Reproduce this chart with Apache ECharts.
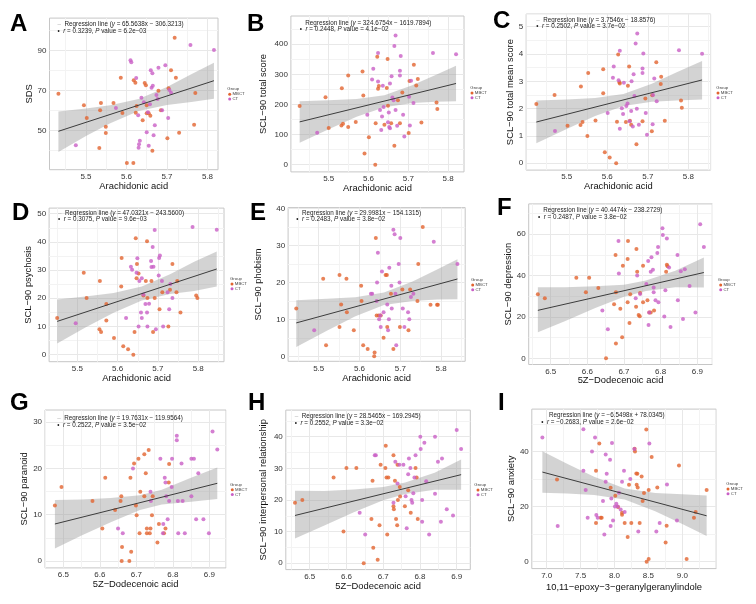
<!DOCTYPE html>
<html>
<head>
<meta charset="utf-8">
<script src="https://cdn.jsdelivr.net/npm/echarts@6/dist/echarts.min.js"></script>
<style>
html, body { margin: 0; padding: 0; background: #fff; }
#main { width: 756px; height: 604px; }
</style>
</head>
<body>
<div id="main"></div>
<script>
// ---- data: [x, y] per subject, split by group ----
const aMbct = [[5.432,68.5],[5.495,62.7],[5.502,56.3],[5.535,60.2],[5.537,63.8],[5.533,41.3],[5.549,52],[5.549,48.8],[5.568,63.8],[5.586,76.5],[5.59,58.8],[5.601,33.8],[5.617,33.8],[5.618,75.2],[5.622,74],[5.623,59],[5.625,62.3],[5.64,55.2],[5.645,73.8],[5.648,72.7],[5.65,62.7],[5.65,58.7],[5.655,58.7],[5.659,57.5],[5.664,40],[5.679,70],[5.685,60.2],[5.701,46.2],[5.704,71.2],[5.71,80.2],[5.719,96.5],[5.722,76.5],[5.73,49],[5.767,53],[5.77,68.8]]
const aCt = [[5.475,42.7],[5.574,61.3],[5.61,85.2],[5.612,84.2],[5.624,76.3],[5.629,57.7],[5.63,41.5],[5.631,43.2],[5.633,45],[5.637,66.5],[5.643,64.2],[5.65,49.2],[5.653,59.2],[5.655,42.5],[5.658,63.2],[5.66,80.2],[5.662,71.5],[5.664,78.7],[5.665,72.5],[5.667,47.7],[5.67,52.7],[5.674,67.8],[5.677,65.8],[5.679,81.5],[5.688,60.2],[5.696,82.7],[5.703,56.3],[5.706,70.3],[5.71,69],[5.758,92.8],[5.816,90.3]]

const bMbct = [[5.427,195],[5.492,224],[5.5,122],[5.532,130],[5.533,254],[5.536,136],[5.549,296],[5.549,125],[5.568,142],[5.585,310],[5.587,230],[5.59,37],[5.601,91],[5.617,0],[5.618,138],[5.622,359],[5.624,252],[5.626,261],[5.64,133],[5.646,255],[5.648,351],[5.649,196],[5.657,138],[5.665,63],[5.674,214],[5.679,138],[5.685,240],[5.701,105],[5.703,278],[5.714,332],[5.72,263],[5.724,285],[5.733,140],[5.771,207],[5.773,185]]
const bCt = [[5.471,106],[5.597,166],[5.609,283],[5.612,319],[5.624,371],[5.624,276],[5.629,182],[5.632,115],[5.634,160],[5.636,262],[5.638,192],[5.649,141],[5.651,173],[5.652,125],[5.654,121],[5.654,270],[5.658,294],[5.66,223],[5.663,214],[5.665,394],[5.668,429],[5.668,182],[5.672,129],[5.679,296],[5.679,312],[5.681,361],[5.687,166],[5.69,94],[5.702,226],[5.704,130],[5.707,279],[5.713,205],[5.762,371],[5.82,367]]

const cMbct = [[5.425,2.17],[5.47,2.5],[5.502,1.37],[5.534,1.4],[5.535,2.81],[5.539,1.51],[5.551,1.0],[5.553,3.3],[5.571,1.57],[5.59,3.44],[5.59,2.56],[5.594,0.4],[5.606,0.21],[5.622,0],[5.624,1.52],[5.627,3.98],[5.63,2.97],[5.631,2.92],[5.646,1.51],[5.651,2.84],[5.654,3.54],[5.656,1.56],[5.659,1.41],[5.672,0.7],[5.687,1.54],[5.694,2.37],[5.71,1.17],[5.711,2.49],[5.721,3.7],[5.732,2.9],[5.733,3.17],[5.742,1.56],[5.782,2.3],[5.784,2.03]]
const cCt = [[5.471,1.18],[5.601,1.84],[5.616,3.54],[5.614,3.13],[5.628,3.04],[5.631,4.12],[5.631,1.26],[5.636,2.01],[5.639,1.8],[5.641,2.95],[5.647,2.1],[5.65,2.19],[5.655,1.54],[5.659,1.91],[5.66,3.0],[5.663,1.35],[5.665,3.26],[5.667,2.46],[5.67,4.38],[5.674,4.75],[5.673,2.0],[5.678,1.41],[5.687,3.3],[5.687,3.47],[5.689,4.02],[5.695,1.84],[5.698,1.04],[5.712,1.43],[5.716,3.1],[5.713,2.5],[5.722,2.27],[5.777,4.14],[5.834,4.01]]

const dMbct = [[5.45,13],[5.516,29.1],[5.523,20.1],[5.555,9],[5.556,26.1],[5.559,8],[5.572,18],[5.572,12.1],[5.591,5.9],[5.609,24.2],[5.61,34.3],[5.614,3],[5.626,1.9],[5.639,0],[5.642,8],[5.645,41.3],[5.648,32.2],[5.647,27.1],[5.652,28.8],[5.664,21],[5.67,26.1],[5.673,40.2],[5.674,20.1],[5.684,26.1],[5.688,8],[5.692,20.1],[5.704,16.1],[5.711,22.1],[5.726,10],[5.73,23],[5.736,32.2],[5.746,22.1],[5.748,26.1],[5.756,15],[5.795,21],[5.798,20.1]]
const dCt = [[5.496,11.1],[5.621,13],[5.633,31.2],[5.636,30.1],[5.647,29.1],[5.649,34.2],[5.652,10],[5.654,26.1],[5.658,15],[5.66,13],[5.66,27.1],[5.664,21.3],[5.669,18],[5.673,15],[5.674,10],[5.678,18.1],[5.683,33.2],[5.684,31.1],[5.687,38.2],[5.689,31.2],[5.692,44.2],[5.695,9],[5.702,28.1],[5.703,34.3],[5.705,35.2],[5.71,26.1],[5.713,10],[5.724,22.1],[5.728,16.1],[5.731,25.1],[5.736,20.1],[5.786,45.3],[5.846,44.3]]

const eMbct = [[5.445,13],[5.511,21],[5.518,3.1],[5.551,22],[5.551,8],[5.555,14.1],[5.568,21],[5.569,12],[5.586,7.1],[5.604,19.1],[5.605,15],[5.609,3.1],[5.62,2.1],[5.636,0.1],[5.637,1.1],[5.64,32],[5.642,11.1],[5.647,11.1],[5.652,11.1],[5.659,5.1],[5.664,22],[5.667,22],[5.668,8],[5.677,17],[5.683,2.1],[5.699,8],[5.705,18.1],[5.72,7.1],[5.724,18.1],[5.755,35],[5.742,15],[5.744,25],[5.774,14],[5.79,14],[5.792,14]]
const eCt = [[5.489,7.1],[5.628,17],[5.631,17],[5.642,15],[5.643,20],[5.645,28],[5.648,10.1],[5.651,11.1],[5.652,8],[5.655,23],[5.659,12],[5.668,14.1],[5.67,7.1],[5.672,10.1],[5.673,24],[5.678,19.1],[5.679,13],[5.683,34.2],[5.686,33],[5.688,17],[5.69,3.1],[5.696,25],[5.698,20],[5.7,32],[5.706,13],[5.71,8],[5.719,12],[5.722,10.1],[5.726,16.1],[5.732,17],[5.782,31],[5.84,25]]

const fMbct = [[6.465,31],[6.484,29],[6.57,39],[6.596,31.9],[6.605,39],[6.63,34],[6.651,0],[6.673,26.1],[6.677,50],[6.678,7.1],[6.678,31.9],[6.69,24],[6.695,10.2],[6.697,44.8],[6.71,27.1],[6.71,48.1],[6.711,56.8],[6.715,17.1],[6.717,31],[6.733,25],[6.734,52.9],[6.736,41.9],[6.74,21],[6.743,20.3],[6.744,31.6],[6.752,27.1],[6.752,44.8],[6.764,28.1],[6.769,22.1],[6.773,22.1],[6.782,23.1],[6.815,41.9],[6.817,45.2],[6.819,44.5]]
const fCt = [[6.641,23.1],[6.656,14],[6.685,56.8],[6.686,41],[6.736,40],[6.732,29],[6.744,31.1],[6.761,36],[6.766,47.1],[6.767,16.1],[6.769,22.1],[6.773,41.9],[6.775,48.9],[6.779,42.9],[6.781,34.2],[6.781,31.9],[6.786,28.1],[6.791,51],[6.793,53.9],[6.794,27.1],[6.805,62.9],[6.806,59.7],[6.81,20.2],[6.813,32.9],[6.817,57.9],[6.823,43.9],[6.827,15.2],[6.846,50],[6.847,28.1],[6.855,42.1],[6.861,19],[6.866,43.1],[6.879,35],[6.895,22.1],[6.908,64.8],[6.918,53.9]]

const gMbct = [[6.477,12],[6.495,16],[6.58,13],[6.607,7],[6.615,18],[6.642,11],[6.657,13],[6.66,0],[6.659,14],[6.661,3],[6.681,0],[6.684,18],[6.686,2],[6.694,21.1],[6.699,12],[6.701,9.9],[6.706,22.1],[6.709,6],[6.711,15],[6.722,23.1],[6.722,14],[6.729,7],[6.729,6],[6.737,6],[6.734,24],[6.726,19],[6.739,7],[6.743,9.9],[6.745,14],[6.758,4],[6.762,8],[6.776,6],[6.78,7],[6.789,17],[6.79,21]]
const gCt = [[6.65,7],[6.663,6],[6.691,20],[6.739,15],[6.74,13],[6.766,22.1],[6.773,6],[6.774,8],[6.778,18],[6.78,17],[6.782,14],[6.786,9],[6.79,13],[6.797,16],[6.798,22.1],[6.811,27.1],[6.811,26.1],[6.814,13],[6.815,6],[6.824,21.1],[6.827,13],[6.833,6],[6.851,14],[6.851,22.1],[6.858,22.1],[6.87,19],[6.864,9],[6.884,9],[6.899,6],[6.909,28],[6.922,24.1]]

const hMbct = [[6.46,19.1],[6.48,20],[6.565,27.1],[6.592,10],[6.6,30.1],[6.627,30.1],[6.647,0],[6.668,14],[6.673,4.9],[6.671,26.1],[6.685,1.1],[6.69,12],[6.693,31.1],[6.706,30.1],[6.707,37.1],[6.709,27.1],[6.711,9.1],[6.714,27.1],[6.728,34.1],[6.728,18],[6.729,17.1],[6.732,26.1],[6.735,14],[6.738,12],[6.739,31.1],[6.74,20],[6.745,24.1],[6.746,21.1],[6.759,18],[6.768,23.1],[6.775,16],[6.788,30.1],[6.791,27.1],[6.794,14]]
const hCt = [[6.636,16],[6.651,9.1],[6.677,34.1],[6.68,34.1],[6.728,19.1],[6.733,32.1],[6.739,25.2],[6.744,31.1],[6.755,31.1],[6.761,21.2],[6.764,11.1],[6.768,28.1],[6.77,33.1],[6.774,30.1],[6.777,20],[6.779,19.1],[6.782,22.1],[6.785,27.1],[6.788,34.1],[6.801,40],[6.802,36.1],[6.806,20],[6.806,13.1],[6.812,38.1],[6.817,25.9],[6.825,9.1],[6.841,40],[6.841,22],[6.849,32.1],[6.857,13.1],[6.86,33.1],[6.873,17.1],[6.89,15.1],[6.9,42.1],[6.912,36.1]]

const iMbct = [[7.152,29.9],[7.727,33.1],[7.727,14.1],[7.776,43],[7.796,16],[7.811,16],[7.943,26.9],[8.012,24],[8.052,19.9],[8.111,17.1],[8.111,17.8],[8.15,14.1],[8.194,9],[8.214,28],[8.248,14.1],[8.297,41.1],[8.302,40.1],[8.322,32.1],[8.337,32],[8.327,28],[8.342,27],[8.371,14.1],[8.4,31],[8.415,22.1],[8.435,25],[8.469,48.1],[8.474,0],[8.504,1],[8.504,26.1],[8.548,38.1],[8.631,27],[8.754,7],[8.769,13.1],[8.951,35],[9.064,1],[9.172,16],[9.197,18.1],[9.359,26.1]]
const iCt = [[6.936,45.2],[7.162,13],[7.541,48.2],[7.541,33.1],[7.575,26.1],[7.604,16],[7.668,40.1],[7.713,45.2],[7.732,17],[7.752,16],[7.83,22.1],[7.85,9.9],[7.87,39],[7.885,32],[7.87,29.1],[7.934,37.1],[7.943,13],[7.953,23],[7.963,43.2],[7.978,15],[8.007,20.1],[8.027,21.1],[8.047,20.1],[8.066,25.1],[8.091,19],[8.111,29.1],[8.14,33.1],[8.15,18.1],[8.233,30.1],[8.292,41],[8.351,11],[8.514,43],[8.617,11],[8.666,14.1],[8.774,28.1],[8.921,15]]

// regression line end points
const aFit = [[5.432,49.7],[5.816,75.0]]
const bFit = [[5.427,142.2],[5.82,269.8]]
const cFit = [[5.425,1.51],[5.834,3.05]]
const dFit = [[5.45,11.8],[5.846,30.4]]
const eFit = [[5.445,9.1],[5.84,20.95]]
const fFit = [[6.465,23.2],[6.918,41.5]]
const gFit = [[6.477,8.0],[6.922,16.8]]
const hFit = [[6.46,15.1],[6.912,28.0]]
const iFit = [[6.936,32.6],[9.359,16.7]]

// confidence band: [x, lower, upper]
const aBand = [[5.432,39.3,59.6],[5.5,47.3,61.1],[5.56,53.7,62.7],[5.63,59.8,65.8],[5.7,62.9,71.9],[5.76,64.4,78.2],[5.816,66,84]]
const bBand = [[5.427,73,211],[5.5,118,214],[5.57,159,218],[5.64,191,231],[5.71,205,264],[5.77,209,299],[5.82,211,329]]
const cBand = [[5.425,0.73,2.3],[5.5,1.25,2.33],[5.57,1.73,2.39],[5.64,2.1,2.54],[5.71,2.25,2.91],[5.77,2.3,3.32],[5.834,2.33,3.74]]
const dBand = [[5.45,4,19.6],[5.52,9.6,20.6],[5.59,14.9,21.9],[5.66,19.2,24.2],[5.73,21.5,28.5],[5.79,22.6,33],[5.846,24.2,36.6]]
const eBand = [[5.445,2.6,15.2],[5.52,7.0,15.6],[5.59,10.9,16.0],[5.66,13.9,17.3],[5.73,15.0,20.3],[5.79,15.4,23.5],[5.84,15.5,26.3]]
const fBand = [[6.465,12.6,34.4],[6.54,18,34.4],[6.62,24.2,34.8],[6.7,29.8,35.6],[6.76,32.6,37.6],[6.84,34.4,42.4],[6.918,34.2,48.8]]
const gBand = [[6.477,2.7,13.2],[6.55,5.5,13.3],[6.63,8.4,13.6],[6.71,11.0,14.2],[6.77,12.2,15.4],[6.85,12.8,18.0],[6.922,13.4,20.2]]
const hBand = [[6.46,7.8,22.9],[6.54,11.9,22.8],[6.62,16.1,23.3],[6.7,19.9,24.1],[6.76,21.9,25.5],[6.84,23.2,28.6],[6.912,23.2,32.8]]
const iBand = [[6.936,25.1,40.2],[7.3,24.8,35.6],[7.7,24.3,30.9],[8.15,22.6,26.6],[8.6,18.4,25.0],[9.0,13.7,24.5],[9.359,9.4,24.1]]

const equations = [
  '65.5638x − 306.3213', '324.6754x − 1619.7894', '3.7546x − 18.8576',
  '47.0321x − 243.5600', '29.9981x − 154.1315', '40.4474x − 238.2729',
  '19.7631x − 119.9564', '28.5465x − 169.2945', '−6.5498x + 78.0345'
]
const rValues = ['0.3239', '0.2448', '0.2502', '0.3075', '0.2483', '0.2487', '0.2522', '0.2552', '−0.2683']
const pValues = ['6.2e−03', '4.1e−02', '3.7e−02', '9.6e−03', '3.8e−02', '3.8e−02', '3.5e−02', '3.3e−02', '2.6e−02']
const letters = ['A', 'B', 'C', 'D', 'E', 'F', 'G', 'H', 'I']
const yNames = ['SDS', 'SCL−90 total score', 'SCL−90 total mean score', 'SCL−90 psychosis', 'SCL−90 phobism',
  'SCL−90 depression', 'SCL−90 paranoid', 'SCL−90 interpersonal relationship', 'SCL−90 anxiety']
const xNames = ['Arachidonic acid', 'Arachidonic acid', 'Arachidonic acid', 'Arachidonic acid', 'Arachidonic acid',
  '5Z−Dodecenoic acid', '5Z−Dodecenoic acid', '5Z−Dodecenoic acid', '10,11−epoxy−3−geranylgeranylindole']
const groups = ['MBCT', 'CT']

const mbctSets = [aMbct, bMbct, cMbct, dMbct, eMbct, fMbct, gMbct, hMbct, iMbct]
const ctSets = [aCt, bCt, cCt, dCt, eCt, fCt, gCt, hCt, iCt]
const fits = [aFit, bFit, cFit, dFit, eFit, fFit, gFit, hFit, iFit]
const bands = [aBand, bBand, cBand, dBand, eBand, fBand, gBand, hBand, iBand]

// ---- layout / style ----
const FONT = '"Liberation Sans", Arial, Helvetica, sans-serif'
const C_MBCT = '#E2642F'
const C_CT = '#C95FC6'
const BAND = 'rgba(150,150,150,0.42)'
const MAJOR = '#e8e8e8'
const MINOR = '#f3f3f3'

// axis: min/max, tick step (min is a multiple of it), major spacing, offset of majors, decimals
const layout = [
  { rect: [49.5, 18.1, 168.5, 151.6], x: { min: 5.41, max: 5.826, step: 0.01, major: 0.1, off: 0, dec: 1 }, y: { min: 30.5, max: 106.3, step: 0.5, major: 20, off: 10, dec: 0 }, xGap: 8.7, yGap: 13.5, letter: [10, 24], note: [57.5, 24, 57.5, 31, true], leg: [227.3, 229.7, 94.3] },
  { rect: [290.9, 16, 173.1, 155.9], x: { min: 5.405, max: 5.84, step: 0.005, major: 0.1, off: 0, dec: 1 }, y: { min: -24, max: 494, step: 2, major: 100, off: 0, dec: 0 }, xGap: 8.8, yGap: 23, letter: [247, 24], note: [305.3, 23.3, 299.7, 29.3, false], leg: [470.3, 472, 93] },
  { rect: [526.2, 14.1, 184.4, 156], x: { min: 5.4, max: 5.855, step: 0.05, major: 0.1, off: 0, dec: 1 }, y: { min: -0.25, max: 5.46, step: 0.25, major: 1, off: 0, dec: 0 }, xGap: 9.9, yGap: 11, letter: [493, 21], note: [536.3, 20.3, 536.3, 26.7, true], leg: [716.3, 718, 93] },
  { rect: [49.1, 208.1, 174.9, 153.6], x: { min: 5.43, max: 5.864, step: 0.01, major: 0.1, off: 0, dec: 1 }, y: { min: -2.5, max: 52, step: 2.5, major: 10, off: 0, dec: 0 }, xGap: 11, yGap: 14, letter: [12, 213.5], note: [58, 213.7, 58, 219.7, true], leg: [230, 232, 284] },
  { rect: [288.1, 207.6, 177.1, 153.7], x: { min: 5.425, max: 5.859, step: 0.025, major: 0.1, off: 0, dec: 1 }, y: { min: -1.25, max: 40.2, step: 1.25, major: 10, off: 0, dec: 0 }, xGap: 12.7, yGap: 25, letter: [250, 213.5], note: [302, 213.3, 296.3, 219.3, false], leg: [471, 472.7, 285] },
  { rect: [528.7, 203.9, 183.6, 160.6], x: { min: 6.44, max: 6.941, step: 0.01, major: 0.1, off: 0, dec: 1 }, y: { min: -3, max: 74.7, step: 1, major: 20, off: 0, dec: 0 }, xGap: 9.5, yGap: 13.7, letter: [497, 208.5], note: [543.3, 210, 538, 217.7, false], leg: [717.7, 720.7, 285] },
  { rect: [45.05, 410, 181, 157.9], x: { min: 6.45, max: 6.946, step: 0.05, major: 0.1, off: 0, dec: 1 }, y: { min: -1.5, max: 32.66, step: 0.5, major: 10, off: 0, dec: 0 }, xGap: 10.4, yGap: 10, letter: [10, 403.5], note: [57.3, 418.3, 57.3, 425, true], leg: [230, 232.3, 489.7] },
  { rect: [285.8, 410.1, 184.5, 159.5], x: { min: 6.435, max: 6.937, step: 0.005, major: 0.1, off: 0, dec: 1 }, y: { min: -2, max: 48.4, step: 1, major: 10, off: 0, dec: 0 }, xGap: 12.1, yGap: 17.8, letter: [248, 403.5], note: [294.7, 416.3, 294.7, 423.3, true], leg: [474.3, 478, 490] },
  { rect: [531.8, 409.1, 184.4, 159.5], x: { min: 6.78, max: 9.5, step: 0.01, major: 0.5, off: 0, dec: 1 }, y: { min: -2.5, max: 55.5, step: 2.5, major: 20, off: 0, dec: 0 }, xGap: 14.1, yGap: 13.8, letter: [498, 403.5], note: [549, 415, 541.3, 422.3, false], leg: [726.3, 728, 489] }
]

// 2 = major tick, 1 = minor (half way), 0 = none
function tickKind(v, ax) {
  const k = (v - ax.off) / ax.major
  const f = k - Math.floor(k)
  if (f < 1e-6 || f > 1 - 1e-6) return 2
  if (Math.abs(f - 0.5) < 1e-6) return 1
  return 0
}
function gridColors(ax) {
  const n = Math.round(ax.major / ax.step)
  const out = []
  for (let i = 0; i < n; i++) {
    const k = tickKind(ax.min + i * ax.step, ax)
    out.push(k === 2 ? MAJOR : k === 1 ? MINOR : 'rgba(255,255,255,0)')
  }
  return out
}
function makeAxis(ax, i, name, gap) {
  return {
    type: 'value', gridIndex: i, min: ax.min, max: ax.max, interval: ax.step,
    name: name, nameLocation: 'middle', nameGap: gap,
    nameTextStyle: { fontSize: 9.4, color: '#111', fontFamily: FONT },
    axisLine: { show: false }, axisTick: { show: false },
    axisLabel: {
      fontSize: 8, color: '#333', margin: 3, fontFamily: FONT,
      formatter: v => {
        // no label on the panel edges, only on the major breaks inside
        if (Math.abs(v - ax.min) < 1e-9 || Math.abs(v - ax.max) < 1e-9) return ''
        return tickKind(v, ax) === 2 ? Number(v).toFixed(ax.dec) : ''
      }
    },
    splitLine: { show: true, lineStyle: { color: gridColors(ax), width: 1 } }
  }
}

const grids = [], xAxes = [], yAxes = [], series = [], graphics = [], titles = []
const noteSize = 6.3
const noteStyle = {
  fontSize: noteSize, fontFamily: FONT, color: '#222', fontWeight: 'normal', lineHeight: 7,
  rich: {
    i: { fontStyle: 'italic', fontSize: noteSize, fontFamily: FONT, color: '#222', lineHeight: 7 },
    d: { fontSize: noteSize, fontFamily: FONT, color: '#bbb', lineHeight: 7 }
  }
}

layout.forEach((L, i) => {
  grids.push({ left: L.rect[0], top: L.rect[1], width: L.rect[2], height: L.rect[3], show: true, borderColor: '#c6c6c6', borderWidth: 1, backgroundColor: '#fff' })
  xAxes.push(makeAxis(L.x, i, xNames[i], L.xGap))
  yAxes.push(makeAxis(L.y, i, yNames[i], L.yGap))

  const band = bands[i]
  series.push({
    type: 'custom', xAxisIndex: i, yAxisIndex: i, data: band, z: 1, silent: true,
    encode: { x: 0, y: [1, 2] },
    renderItem: function (params, api) {
      if (params.dataIndex !== 0) return null
      const pts = []
      band.forEach(b => pts.push(api.coord([b[0], b[2]])))
      for (let j = band.length - 1; j >= 0; j--) pts.push(api.coord([band[j][0], band[j][1]]))
      return { type: 'polygon', shape: { points: pts }, style: { fill: BAND } }
    }
  })
  series.push({
    name: groups[0], type: 'scatter', xAxisIndex: i, yAxisIndex: i, data: mbctSets[i],
    symbolSize: 4, itemStyle: { color: C_MBCT }, z: 3
  })
  series.push({
    name: groups[1], type: 'scatter', xAxisIndex: i, yAxisIndex: i, data: ctSets[i],
    symbolSize: 4, itemStyle: { color: C_CT }, z: 3
  })
  series.push({
    type: 'line', xAxisIndex: i, yAxisIndex: i, data: fits[i], showSymbol: false, silent: true,
    lineStyle: { color: '#3c3c3c', width: 1 }, z: 4
  })

  // panel letter
  graphics.push({ type: 'text', x: L.letter[0], y: L.letter[1], style: { text: letters[i], fontSize: 24, fontWeight: 'bold', fontFamily: FONT, fill: '#000', verticalAlign: 'middle', textVerticalAlign: 'middle' } })
  // regression annotation (title components handle the rich italics)
  const n = L.note
  const line1 = (n[4] ? '{d|–}  ' : '') + 'Regression line ({i|y} = ' + equations[i] + ')'
  const line2 = '•  {i|r} = ' + rValues[i] + ', {i|P} value = ' + pValues[i]
  titles.push({ text: line1, left: n[0], top: n[1] - 3.5, padding: 0, textStyle: noteStyle })
  titles.push({ text: line2, left: n[2], top: n[3] - 3.5, padding: 0, textStyle: noteStyle })
  // group legend
  const g = L.leg
  graphics.push({ type: 'text', x: g[0], y: g[2] - 5.3, style: { text: 'Group', fontSize: 4.3, fontFamily: FONT, fill: '#444', verticalAlign: 'middle', textVerticalAlign: 'middle' } })
  graphics.push({ type: 'circle', shape: { cx: g[1], cy: g[2], r: 1.5 }, style: { fill: C_MBCT } })
  graphics.push({ type: 'circle', shape: { cx: g[1], cy: g[2] + 4.8, r: 1.5 }, style: { fill: C_CT } })
  graphics.push({ type: 'text', x: g[1] + 2.8, y: g[2], style: { text: groups[0], fontSize: 4.3, fontFamily: FONT, fill: '#444', verticalAlign: 'middle', textVerticalAlign: 'middle' } })
  graphics.push({ type: 'text', x: g[1] + 2.8, y: g[2] + 4.8, style: { text: groups[1], fontSize: 4.3, fontFamily: FONT, fill: '#444', verticalAlign: 'middle', textVerticalAlign: 'middle' } })
})

const myChart = echarts.init(document.getElementById('main'))
myChart.setOption({
  animation: false,
  backgroundColor: '#fff',
  title: titles,
  grid: grids,
  xAxis: xAxes,
  yAxis: yAxes,
  series: series,
  graphic: graphics
})
</script>
</body>
</html>
